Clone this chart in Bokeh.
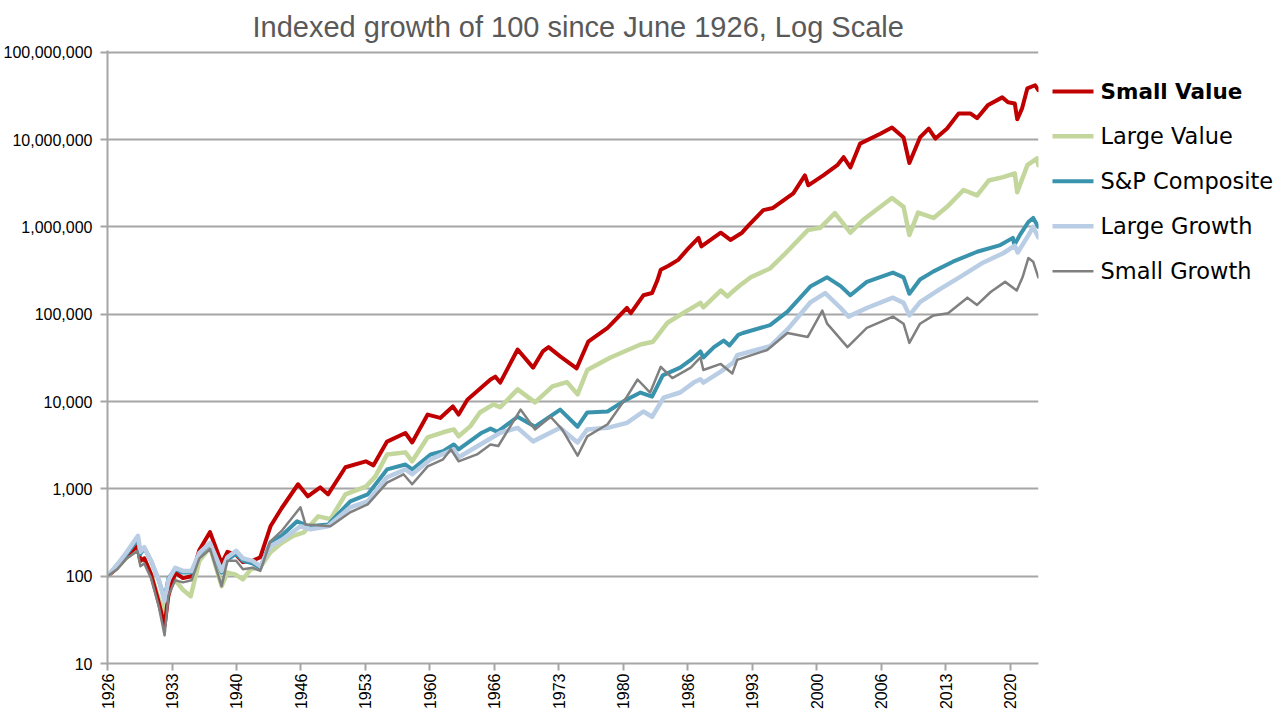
import math
from bokeh.plotting import figure
from bokeh.models import Range1d, FixedTicker, NumeralTickFormatter, ColumnDataSource
from bokeh.layouts import row
from bokeh.embed import file_html
from bokeh.resources import INLINE
from bokeh.core.properties import value

# ---------------- data (decimal year, index value) ----------------
sv_year = [1926.5, 1927.5, 1928.5, 1929.6, 1929.9, 1930.3, 1931.0, 1931.8, 1932.4, 1932.8,
           1933.5, 1934.3, 1935.2, 1936.0, 1937.1, 1938.3, 1938.9, 1939.8, 1940.5, 1941.5,
           1942.3, 1943.35, 1944.5, 1946.2, 1947.2, 1948.5, 1949.3, 1951.1, 1953.2, 1954.0,
           1955.4, 1957.3, 1958.0, 1959.6, 1960.9, 1962.2, 1962.8, 1963.7, 1966.1, 1966.6,
           1967.1, 1968.9, 1970.5, 1971.5, 1972.1, 1973.3, 1975.0, 1976.2, 1978.2, 1980.2,
           1980.6, 1981.9, 1982.8, 1983.35, 1983.7, 1984.5, 1985.5, 1986.5, 1987.6, 1987.9,
           1989.9, 1990.9, 1992.1, 1992.8, 1994.3, 1995.3, 1997.4, 1998.6, 1998.95, 2000.5,
           2001.95, 2002.6, 2003.3, 2004.3, 2006.4, 2007.6, 2008.8, 2009.4, 2010.5, 2011.4,
           2012.1, 2013.3, 2014.5, 2015.7, 2016.4, 2017.5, 2019.0, 2019.6, 2020.3, 2020.55,
           2021.05, 2021.6, 2022.4, 2022.73]
sv_val = [100, 125, 175, 220, 150, 160, 105, 50, 27, 60,
          110, 95, 100, 200, 320, 140, 190, 175, 145, 150,
          165, 373, 600, 1130, 822, 1040, 865, 1770, 2070, 1860,
          3480, 4370, 3400, 7100, 6500, 8800, 7100, 10500, 17900, 19300,
          16500, 39500, 24500, 37500, 42000, 33000, 24000, 48500, 70000, 118000,
          103000, 165000, 175000, 245000, 324000, 360000, 420000, 560000, 750000, 600000,
          860000, 710000, 860000, 1050000, 1560000, 1650000, 2430000, 3900000, 3000000, 3900000,
          5100000, 6300000, 4800000, 9000000, 11700000, 13800000, 10600000, 5400000, 10600000, 13400000,
          10300000, 13400000, 20000000, 20000000, 17600000, 24700000, 30500000, 26800000, 26000000, 17100000,
          22800000, 38700000, 42000000, 36800000]

lv_year = [1926.5, 1927.5, 1928.5, 1929.6, 1929.9, 1930.3, 1931.0, 1931.8, 1932.4, 1932.8,
           1933.5, 1934.3, 1935.1, 1936.0, 1937.1, 1938.3, 1938.9, 1939.7, 1940.5, 1941.3,
           1942.3, 1943.35, 1944.5, 1945.7, 1946.8, 1948.3, 1949.55, 1951.1, 1953.2, 1954.2,
           1955.4, 1957.3, 1958.0, 1959.6, 1961.2, 1962.3, 1962.8, 1964.0, 1965.0, 1966.4,
           1967.1, 1968.9, 1970.7, 1972.5, 1974.0, 1975.1, 1976.1, 1978.5, 1981.6, 1982.9,
           1984.4, 1986.0, 1987.8, 1988.1, 1989.9, 1990.6, 1991.2, 1991.9, 1993.0, 1995.0,
           1996.4, 1998.9, 2000.2, 2001.7, 2003.3, 2004.6, 2007.6, 2008.8, 2009.4, 2010.3,
           2011.9, 2013.3, 2015.0, 2016.4, 2017.6, 2019.1, 2020.3, 2020.55, 2021.6, 2022.6,
           2022.73]
lv_val = [100, 125, 165, 225, 150, 160, 105, 55, 40, 75,
          90, 70, 59, 150, 215, 77, 110, 105, 92, 120,
          127, 188, 240, 290, 318, 485, 450, 865, 1060, 1390,
          2480, 2620, 2070, 3900, 4450, 4800, 4000, 5200, 7500, 9300,
          8600, 13800, 9800, 14900, 16700, 12100, 23000, 32000, 45000, 48500,
          80000, 103000, 135000, 120000, 187000, 160000, 185000, 215000, 265000, 335000,
          475000, 920000, 980000, 1440000, 860000, 1200000, 2150000, 1700000, 810000, 1460000,
          1270000, 1700000, 2650000, 2300000, 3400000, 3720000, 4100000, 2500000, 5100000, 6100000,
          5100000]

sp_year = [1926.5, 1927.5, 1928.5, 1929.65, 1929.9, 1930.3, 1931.0, 1931.8, 1932.4, 1932.8,
           1933.5, 1934.3, 1935.2, 1936.0, 1937.1, 1938.3, 1938.9, 1939.8, 1940.5, 1941.5,
           1942.3, 1943.35, 1944.5, 1946.1, 1947.3, 1949.3, 1951.6, 1953.4, 1955.4, 1957.3,
           1958.0, 1959.9, 1961.2, 1962.3, 1962.8, 1965.2, 1966.1, 1966.8, 1968.9, 1970.7,
           1973.3, 1975.1, 1976.1, 1978.2, 1979.8, 1981.6, 1982.8, 1983.9, 1985.7, 1986.8,
           1987.8, 1988.1, 1989.2, 1990.2, 1990.8, 1991.7, 1992.2, 1995.0, 1996.8, 1999.2,
           2000.9, 2002.3, 2003.3, 2005.0, 2007.7, 2008.8, 2009.4, 2010.5, 2011.9, 2013.9,
           2016.4, 2018.8, 2020.1, 2020.25, 2020.8, 2021.7, 2022.2, 2022.73]
sp_val = [100, 135, 180, 265, 180, 210, 150, 90, 55, 95,
          120, 110, 110, 180, 235, 110, 155, 180, 150, 140,
          125, 245, 290, 425, 373, 390, 720, 865, 1670, 1900,
          1670, 2480, 2700, 3220, 2840, 4400, 4900, 4500, 6700, 5150,
          8100, 5150, 7500, 7700, 10000, 12700, 11400, 20000, 24500, 30000,
          37500, 32000, 42000, 50000, 44000, 58000, 61000, 75000, 107000, 210000,
          265000, 210000, 165000, 235000, 300000, 265000, 172000, 250000, 310000, 400000,
          520000, 620000, 750000, 620000, 800000, 1140000, 1270000, 1000000]

lg_year = [1926.5, 1927.5, 1928.5, 1929.65, 1929.9, 1930.3, 1931.0, 1931.8, 1932.4, 1932.8,
           1933.5, 1934.3, 1935.2, 1936.0, 1937.1, 1938.3, 1938.9, 1939.8, 1940.5, 1941.5,
           1942.3, 1943.35, 1944.5, 1946.45, 1947.5, 1949.3, 1951.6, 1953.4, 1955.4, 1957.3,
           1958.0, 1959.9, 1962.3, 1962.8, 1965.4, 1967.1, 1968.9, 1970.5, 1973.3, 1975.1,
           1976.1, 1978.2, 1980.2, 1981.9, 1982.8, 1984.0, 1985.7, 1987.1, 1987.8, 1988.1,
           1989.9, 1991.2, 1991.6, 1993.0, 1995.0, 1996.8, 1999.2, 2000.7, 2002.3, 2003.1,
           2005.0, 2007.7, 2008.8, 2009.4, 2010.5, 2012.6, 2014.7, 2017.0, 2019.1, 2020.3,
           2020.6, 2021.7, 2022.2, 2022.73]
lg_val = [100, 135, 190, 290, 190, 215, 150, 90, 52, 90,
          125, 115, 115, 185, 240, 115, 165, 195, 160, 150,
          130, 220, 260, 373, 345, 373, 615, 720, 1360, 1670,
          1470, 2180, 2840, 2300, 3400, 4400, 5000, 3500, 5000, 3400,
          4800, 5000, 5700, 7700, 6700, 11100, 12700, 16500, 18000, 16500,
          22000, 28000, 34000, 37500, 43000, 67000, 138000, 175000, 118000, 94000,
          118000, 155000, 135000, 97000, 138000, 195000, 270000, 390000, 500000, 610000,
          510000, 800000, 1000000, 760000]

sg_year = [1926.5, 1927.5, 1928.5, 1929.6, 1929.9, 1930.3, 1931.0, 1931.8, 1932.4, 1932.8,
           1933.5, 1934.3, 1935.2, 1936.0, 1937.1, 1938.3, 1938.9, 1939.8, 1940.5, 1941.5,
           1942.3, 1943.35, 1944.5, 1946.45, 1946.97, 1949.55, 1951.6, 1953.4, 1955.4, 1957.1,
           1958.0, 1959.6, 1961.2, 1962.0, 1962.8, 1964.7, 1966.1, 1966.9, 1969.2, 1970.7,
           1972.3, 1973.5, 1975.1, 1976.1, 1978.2, 1980.2, 1981.3, 1982.6, 1983.7, 1984.9,
           1986.8, 1987.8, 1988.1, 1989.9, 1991.1, 1991.6, 1994.7, 1996.8, 1998.9, 2000.4,
           2000.9, 2003.0, 2005.0, 2007.7, 2008.8, 2009.4, 2010.5, 2011.9, 2013.4, 2015.4,
           2016.4, 2017.8, 2019.3, 2020.5, 2021.1, 2021.7, 2022.2, 2022.73]
sg_val = [100, 120, 160, 195, 130, 140, 95, 45, 21, 60,
          90, 85, 90, 160, 205, 77, 150, 150, 120, 125,
          115, 250, 330, 615, 390, 373, 540, 665, 1180, 1470,
          1130, 1810, 2180, 2840, 2070, 2480, 3220, 3100, 8100, 4800,
          6700, 4800, 2400, 4000, 5500, 11400, 17900, 12700, 25000, 18600,
          24500, 32000, 23000, 27000, 21000, 30000, 39000, 61000, 55000, 110000,
          78000, 42000, 70000, 94000, 78000, 47000, 78000, 97000, 103000, 155000,
          128000, 180000, 235000, 187000, 265000, 440000, 400000, 265000]

series_names = ["Small Value", "Large Value", "S&P Composite", "Large Growth", "Small Growth"]
series_colors = ["#c00000", "#c3d69b", "#3a93ad", "#b9cde5", "#808080"]
series_widths = [4, 4.5, 4, 4.5, 2.5]
series_data = [(sv_year, sv_val), (lv_year, lv_val), (sp_year, sp_val), (lg_year, lg_val), (sg_year, sg_val)]
draw_order = [1, 0, 2, 3, 4]

y_ticks = [10, 100, 1000, 10000, 100000, 1000000, 10000000, 100000000]
x_tick_labels = ["1926", "1933", "1940", "1946", "1953", "1960", "1966", "1973",
                 "1980", "1986", "1993", "2000", "2006", "2013", "2020"]

# tick every 80 months from June 1926
x_tick_pos = [round(1926.5 + k * 80 / 12, 2) for k in range(len(x_tick_labels))]

FONT = "Liberation Sans"
GRID = "#a6a6a6"
H = 712
TOP, BOTTOM = 50, 48

p = figure(width=1048, height=H,
           x_range=Range1d(1926.5, 2022.75), y_range=Range1d(10, 1.05e8),
           y_axis_type="log", output_backend="svg", toolbar_location=None,
           min_border_left=107, min_border_right=10, min_border_top=TOP, min_border_bottom=BOTTOM,
           title="Indexed growth of 100 since June 1926, Log Scale")
p.outline_line_color = None
p.background_fill_color = "white"
p.border_fill_color = "white"

p.title.text_font = FONT
p.title.text_font_size = "29px"
p.title.text_font_style = "normal"
p.title.text_color = "#595959"
p.title.align = "left"
p.title.offset = 145
p.title.text_line_height = 1.0
p.title.standoff = 15

p.xgrid.visible = False
p.ygrid.grid_line_color = GRID
p.ygrid.grid_line_width = 2
p.ygrid.ticker = FixedTicker(ticks=y_ticks)

p.yaxis.ticker = FixedTicker(ticks=y_ticks)
p.yaxis.formatter = NumeralTickFormatter(format="0,0")
p.yaxis.major_label_text_font = FONT
p.yaxis.major_label_text_font_size = "16px"
p.yaxis.major_label_text_color = "#000000"
p.yaxis.major_label_standoff = 8
p.yaxis.axis_line_color = GRID
p.yaxis.axis_line_width = 2
p.yaxis.major_tick_line_color = GRID
p.yaxis.major_tick_line_width = 2
p.yaxis.major_tick_out = 7
p.yaxis.major_tick_in = 0
p.yaxis.minor_tick_line_color = None

p.xaxis.ticker = FixedTicker(ticks=x_tick_pos)
p.xaxis.major_label_overrides = {pos: lab for pos, lab in zip(x_tick_pos, x_tick_labels)}
p.xaxis.major_label_orientation = math.pi / 2
p.xaxis.major_label_text_font = FONT
p.xaxis.major_label_text_font_size = "16px"
p.xaxis.major_label_text_color = "#000000"
p.xaxis.major_label_standoff = 3
p.xaxis.axis_line_color = GRID
p.xaxis.axis_line_width = 2
p.xaxis.major_tick_line_color = GRID
p.xaxis.major_tick_line_width = 2
p.xaxis.major_tick_out = 7
p.xaxis.major_tick_in = 0
p.xaxis.minor_tick_line_color = None

for i in draw_order:
    xs, ys = series_data[i]
    src = ColumnDataSource(data=dict(x=xs, y=ys))
    p.line("x", "y", source=src, line_color=series_colors[i], line_width=series_widths[i],
           line_join="round", line_cap="round")

# ---------------- legend panel (screen-like coordinates, same frame as main plot) ----------------
LEG_W = 228
FRAME_H = H - TOP - BOTTOM
leg = figure(width=LEG_W, height=H, x_range=Range1d(0, LEG_W), y_range=Range1d(FRAME_H, 0),
             output_backend="svg", toolbar_location=None,
             min_border_left=0, min_border_right=0, min_border_top=TOP, min_border_bottom=BOTTOM,
             x_axis_location=None, y_axis_location=None)
leg.outline_line_color = None
leg.grid.visible = False
leg.background_fill_color = "white"
leg.border_fill_color = "white"

row_y0, row_step = 41, 45
line_x0, line_x1, text_x = 4, 45, 52
for i, name in enumerate(series_names):
    yy = row_y0 + row_step * i
    leg.line([line_x0, line_x1], [yy, yy], line_color=series_colors[i], line_width=series_widths[i])
    leg.text(x=[text_x], y=[yy], text=[name], text_font=value("DejaVu Sans"),
             text_font_size="21.5px" if i == 0 else "22.5px", text_baseline="middle", text_align="left",
             text_color="#000000", text_font_style="bold" if i == 0 else "normal")

layout = row(p, leg)
open("out.html", "w").write(file_html(layout, INLINE))
